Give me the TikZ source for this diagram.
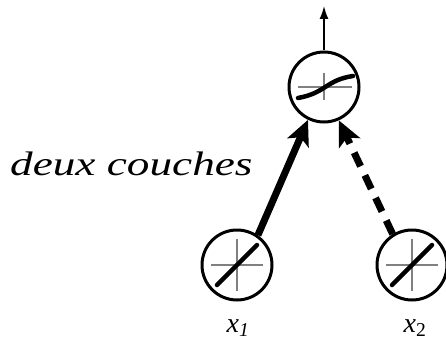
\documentclass[tikz,border=0pt]{standalone}
\usepackage{fontspec}
\setmainfont{Liberation Serif}
\newfontfamily\itfont{Liberation Serif Italic}
\usetikzlibrary{arrows.meta}
\tikzset{
  neuron/.style={circle, draw, line width=3pt, minimum size=70pt, inner sep=0pt},
  axes/.style={gray, line width=1.5pt},
  act/.style={line width=4.5pt, line cap=round},
  weight/.style={line width=7pt, -{Stealth[length=25pt, width=23pt, inset=6pt]}}
}
\begin{document}
\begin{tikzpicture}[x=1pt,y=-1pt]
\useasboundingbox (0,0) rectangle (446,342);
\node[neuron] (h) at (324,87) {};
\node[neuron] (x1) at (237,265) {};
\node[neuron] (x2) at (412,265) {};
\coordinate (out) at (324,6);
% activation of the hidden unit
\draw[axes] ([shift={(-26,0)}]h.center) -- ([shift={(28,0)}]h.center);
\draw[axes] ([shift={(0,-14)}]h.center) -- ([shift={(0,13)}]h.center);
\draw[act] ([shift={(-26,11)}]h.center) .. controls ([shift={(2,6)}]h.center) and ([shift={(2,-7)}]h.center) .. ([shift={(29,-11)}]h.center);
% linear input units
\foreach \n in {x1,x2}{
  \draw[axes] ([shift={(-26,0)}]\n.center) -- ([shift={(26,0)}]\n.center);
  \draw[axes] ([shift={(0,-26)}]\n.center) -- ([shift={(0,26)}]\n.center);
  \draw[act] ([shift={(-20,20)}]\n.center) -- ([shift={(20,-20)}]\n.center);
}
\draw[line width=1.5pt, -{Latex[length=13pt, width=9pt]}] (h.north) -- (out);
\draw[weight] (x1.55) -- (h.244);
\draw[weight, dash pattern=on 15pt off 10pt] (x2.122) -- (h.294);
\node[anchor=base west, inner sep=0pt] (title) at (10,175) {\scalebox{1.33}[1]{\itfont\fontsize{34}{40}\selectfont deux couches}};
\node[anchor=base, inner sep=0pt] (l1) at (238,332) {\itfont\fontsize{28}{32}\selectfont x\textsubscript{1}};
\node[anchor=base, inner sep=0pt] (l2) at (415,332) {\fontsize{28}{32}\selectfont{\itfont x}\textsubscript{2}};
\end{tikzpicture}
\end{document}
